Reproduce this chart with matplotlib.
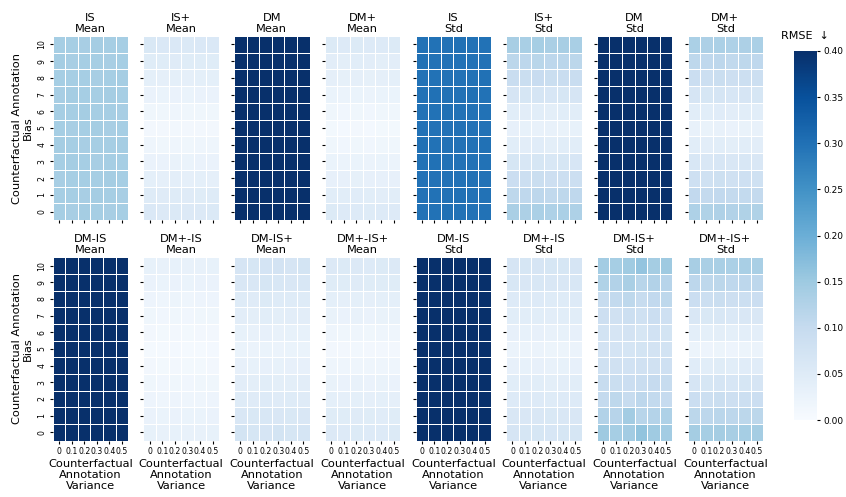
import numpy as np
import matplotlib
matplotlib.use('Agg')
import matplotlib.pyplot as plt

# 变量轴
variances = ['0', '0.1', '0.2', '0.3', '0.4', '0.5']
biases = [str(b) for b in range(11)]

# 每个面板 11 行 (bias 0..10) x 6 列 (variance 0..0.5)
is_mean = [
    [0.140, 0.139, 0.141, 0.140, 0.139, 0.140],
    [0.140, 0.140, 0.139, 0.141, 0.140, 0.139],
    [0.139, 0.140, 0.140, 0.140, 0.141, 0.140],
    [0.140, 0.141, 0.140, 0.139, 0.140, 0.140],
    [0.141, 0.140, 0.139, 0.140, 0.140, 0.141],
    [0.140, 0.139, 0.140, 0.141, 0.139, 0.140],
    [0.140, 0.140, 0.141, 0.140, 0.140, 0.139],
    [0.139, 0.141, 0.140, 0.140, 0.141, 0.140],
    [0.140, 0.140, 0.140, 0.139, 0.140, 0.141],
    [0.141, 0.139, 0.140, 0.140, 0.139, 0.140],
    [0.140, 0.140, 0.139, 0.141, 0.140, 0.140],
]
isp_mean = [
    [0.058, 0.056, 0.057, 0.055, 0.056, 0.057],
    [0.050, 0.049, 0.051, 0.049, 0.048, 0.050],
    [0.038, 0.037, 0.040, 0.036, 0.038, 0.037],
    [0.028, 0.027, 0.029, 0.026, 0.028, 0.027],
    [0.018, 0.017, 0.019, 0.017, 0.018, 0.018],
    [0.012, 0.011, 0.013, 0.011, 0.012, 0.012],
    [0.017, 0.016, 0.018, 0.016, 0.017, 0.017],
    [0.027, 0.026, 0.028, 0.026, 0.027, 0.027],
    [0.038, 0.037, 0.039, 0.037, 0.038, 0.039],
    [0.048, 0.047, 0.049, 0.048, 0.047, 0.048],
    [0.060, 0.058, 0.059, 0.057, 0.058, 0.059],
]
dm_mean = [[0.45] * 6 for _ in range(11)]
dmp_mean = [
    [0.054, 0.052, 0.053, 0.051, 0.052, 0.053],
    [0.045, 0.044, 0.046, 0.044, 0.043, 0.045],
    [0.034, 0.033, 0.035, 0.033, 0.034, 0.033],
    [0.025, 0.024, 0.026, 0.024, 0.025, 0.024],
    [0.016, 0.015, 0.017, 0.015, 0.016, 0.016],
    [0.010, 0.009, 0.011, 0.009, 0.010, 0.010],
    [0.016, 0.015, 0.017, 0.015, 0.016, 0.016],
    [0.025, 0.024, 0.026, 0.024, 0.025, 0.025],
    [0.036, 0.035, 0.037, 0.035, 0.036, 0.038],
    [0.043, 0.042, 0.044, 0.043, 0.042, 0.043],
    [0.054, 0.053, 0.054, 0.052, 0.053, 0.054],
]
is_std = [
    [0.298, 0.297, 0.299, 0.298, 0.297, 0.298],
    [0.298, 0.298, 0.297, 0.299, 0.298, 0.297],
    [0.297, 0.298, 0.298, 0.298, 0.299, 0.298],
    [0.298, 0.299, 0.298, 0.297, 0.298, 0.298],
    [0.299, 0.298, 0.297, 0.298, 0.298, 0.299],
    [0.298, 0.297, 0.298, 0.299, 0.297, 0.298],
    [0.298, 0.298, 0.299, 0.298, 0.298, 0.297],
    [0.297, 0.299, 0.298, 0.298, 0.299, 0.298],
    [0.298, 0.298, 0.298, 0.297, 0.298, 0.299],
    [0.299, 0.297, 0.298, 0.298, 0.297, 0.298],
    [0.298, 0.298, 0.297, 0.299, 0.298, 0.298],
]
isp_std = [
    [0.135, 0.132, 0.134, 0.130, 0.133, 0.131],
    [0.110, 0.108, 0.112, 0.107, 0.110, 0.109],
    [0.090, 0.088, 0.091, 0.087, 0.089, 0.088],
    [0.066, 0.064, 0.067, 0.063, 0.066, 0.065],
    [0.044, 0.043, 0.046, 0.042, 0.045, 0.044],
    [0.033, 0.032, 0.030, 0.031, 0.029, 0.032],
    [0.044, 0.043, 0.045, 0.042, 0.044, 0.045],
    [0.068, 0.066, 0.069, 0.065, 0.067, 0.068],
    [0.094, 0.092, 0.096, 0.091, 0.095, 0.094],
    [0.114, 0.112, 0.116, 0.111, 0.115, 0.114],
    [0.138, 0.136, 0.140, 0.135, 0.139, 0.136],
]
dm_std = [[0.43] * 6 for _ in range(11)]
dmp_std = [
    [0.130, 0.128, 0.129, 0.126, 0.128, 0.127],
    [0.105, 0.103, 0.106, 0.102, 0.104, 0.103],
    [0.084, 0.082, 0.085, 0.081, 0.083, 0.082],
    [0.064, 0.062, 0.065, 0.061, 0.063, 0.062],
    [0.044, 0.043, 0.045, 0.042, 0.044, 0.043],
    [0.030, 0.029, 0.030, 0.028, 0.029, 0.030],
    [0.045, 0.044, 0.046, 0.043, 0.045, 0.044],
    [0.068, 0.066, 0.069, 0.065, 0.068, 0.067],
    [0.090, 0.088, 0.091, 0.087, 0.089, 0.088],
    [0.110, 0.108, 0.111, 0.107, 0.110, 0.108],
    [0.134, 0.132, 0.133, 0.131, 0.132, 0.134],
]

dm_is_mean = [[0.45] * 6 for _ in range(11)]
dmp_is_mean = [
    [0.032, 0.031, 0.032, 0.030, 0.031, 0.032],
    [0.027, 0.026, 0.027, 0.025, 0.026, 0.027],
    [0.021, 0.020, 0.021, 0.020, 0.020, 0.021],
    [0.016, 0.015, 0.016, 0.015, 0.016, 0.016],
    [0.011, 0.010, 0.011, 0.010, 0.010, 0.011],
    [0.007, 0.007, 0.008, 0.007, 0.007, 0.008],
    [0.011, 0.010, 0.011, 0.010, 0.011, 0.011],
    [0.016, 0.015, 0.017, 0.015, 0.016, 0.016],
    [0.021, 0.020, 0.022, 0.020, 0.021, 0.021],
    [0.027, 0.026, 0.028, 0.026, 0.027, 0.027],
    [0.032, 0.031, 0.032, 0.031, 0.031, 0.032],
]
dm_isp_mean = [
    [0.072, 0.066, 0.068, 0.073, 0.067, 0.070],
    [0.062, 0.060, 0.064, 0.061, 0.060, 0.062],
    [0.050, 0.049, 0.052, 0.049, 0.050, 0.049],
    [0.043, 0.041, 0.044, 0.041, 0.042, 0.043],
    [0.033, 0.032, 0.034, 0.032, 0.033, 0.033],
    [0.025, 0.024, 0.026, 0.024, 0.025, 0.025],
    [0.032, 0.031, 0.033, 0.031, 0.032, 0.032],
    [0.043, 0.042, 0.044, 0.042, 0.043, 0.043],
    [0.051, 0.049, 0.054, 0.050, 0.051, 0.050],
    [0.062, 0.061, 0.066, 0.063, 0.061, 0.063],
    [0.068, 0.066, 0.071, 0.075, 0.068, 0.072],
]
dmp_isp_mean = [
    [0.055, 0.053, 0.054, 0.052, 0.053, 0.054],
    [0.048, 0.047, 0.049, 0.047, 0.046, 0.048],
    [0.038, 0.037, 0.039, 0.037, 0.038, 0.037],
    [0.029, 0.028, 0.030, 0.028, 0.029, 0.028],
    [0.019, 0.018, 0.020, 0.018, 0.019, 0.019],
    [0.012, 0.011, 0.013, 0.011, 0.012, 0.012],
    [0.018, 0.017, 0.019, 0.017, 0.018, 0.018],
    [0.029, 0.028, 0.030, 0.028, 0.029, 0.029],
    [0.038, 0.037, 0.039, 0.037, 0.038, 0.038],
    [0.048, 0.047, 0.049, 0.048, 0.047, 0.048],
    [0.055, 0.054, 0.055, 0.053, 0.054, 0.055],
]
dm_is_std = [[0.45] * 6 for _ in range(11)]
dmp_is_std = [
    [0.068, 0.066, 0.067, 0.065, 0.066, 0.067],
    [0.062, 0.061, 0.062, 0.060, 0.061, 0.062],
    [0.053, 0.052, 0.053, 0.051, 0.052, 0.052],
    [0.044, 0.043, 0.044, 0.042, 0.043, 0.044],
    [0.033, 0.032, 0.033, 0.031, 0.032, 0.033],
    [0.024, 0.023, 0.024, 0.022, 0.023, 0.024],
    [0.033, 0.032, 0.033, 0.031, 0.032, 0.033],
    [0.045, 0.044, 0.045, 0.043, 0.044, 0.045],
    [0.052, 0.051, 0.052, 0.050, 0.051, 0.052],
    [0.063, 0.062, 0.063, 0.061, 0.062, 0.063],
    [0.068, 0.067, 0.068, 0.066, 0.067, 0.068],
]
dm_isp_std = [
    [0.150, 0.140, 0.145, 0.162, 0.148, 0.145],
    [0.125, 0.120, 0.145, 0.118, 0.122, 0.130],
    [0.102, 0.110, 0.098, 0.112, 0.104, 0.100],
    [0.098, 0.092, 0.090, 0.094, 0.100, 0.097],
    [0.082, 0.080, 0.078, 0.081, 0.080, 0.084],
    [0.074, 0.071, 0.069, 0.073, 0.074, 0.076],
    [0.076, 0.068, 0.074, 0.066, 0.078, 0.072],
    [0.086, 0.080, 0.088, 0.082, 0.090, 0.084],
    [0.098, 0.104, 0.110, 0.098, 0.106, 0.110],
    [0.128, 0.125, 0.135, 0.118, 0.126, 0.120],
    [0.145, 0.140, 0.148, 0.160, 0.142, 0.150],
]
dmp_isp_std = [
    [0.142, 0.140, 0.141, 0.139, 0.140, 0.141],
    [0.114, 0.112, 0.115, 0.111, 0.113, 0.114],
    [0.090, 0.088, 0.091, 0.087, 0.089, 0.090],
    [0.068, 0.066, 0.069, 0.065, 0.067, 0.068],
    [0.046, 0.045, 0.047, 0.044, 0.046, 0.046],
    [0.022, 0.021, 0.023, 0.021, 0.022, 0.024],
    [0.040, 0.039, 0.041, 0.038, 0.040, 0.040],
    [0.062, 0.060, 0.063, 0.059, 0.061, 0.062],
    [0.090, 0.088, 0.091, 0.087, 0.089, 0.090],
    [0.112, 0.110, 0.113, 0.109, 0.111, 0.112],
    [0.138, 0.135, 0.136, 0.134, 0.137, 0.136],
]

top_titles = ['IS\nMean', 'IS+\nMean', 'DM\nMean', 'DM+\nMean',
              'IS\nStd', 'IS+\nStd', 'DM\nStd', 'DM+\nStd']
bottom_titles = ['DM-IS\nMean', 'DM+-IS\nMean', 'DM-IS+\nMean', 'DM+-IS+\nMean',
                 'DM-IS\nStd', 'DM+-IS\nStd', 'DM-IS+\nStd', 'DM+-IS+\nStd']
top_data = [is_mean, isp_mean, dm_mean, dmp_mean, is_std, isp_std, dm_std, dmp_std]
bottom_data = [dm_is_mean, dmp_is_mean, dm_isp_mean, dmp_isp_mean,
               dm_is_std, dmp_is_std, dm_isp_std, dmp_isp_std]

W, H = 846, 497
fig = plt.figure(figsize=(W / 100, H / 100), dpi=100)

vmin, vmax = 0.0, 0.4
cmap = 'Blues'
fs = 8.2
left0, step, pw = 52.7, 90.7, 75.5
rows_px = [(36, 220), (257.3, 440.7)]

mesh = None
for r, (titles, datas) in enumerate([(top_titles, top_data), (bottom_titles, bottom_data)]):
    y0, y1 = rows_px[r]
    for c in range(8):
        x0 = left0 + c * step
        ax = fig.add_axes([x0 / W, 1 - y1 / H, pw / W, (y1 - y0) / H])
        arr = np.array(datas[c])
        mesh = ax.pcolormesh(arr, cmap=cmap, vmin=vmin, vmax=vmax,
                             edgecolors='white', linewidth=0.7)
        ax.set_xlim(0, 6)
        ax.set_ylim(0, 11)
        for s in ax.spines.values():
            s.set_visible(False)
        ax.set_xticks(np.arange(6) + 0.5)
        ax.set_yticks(np.arange(11) + 0.5)
        ax.tick_params(length=2.5, width=0.8, pad=2)
        ax.set_title(titles[c], fontsize=fs, pad=3, linespacing=1.12)
        if c == 0:
            ax.set_yticklabels(biases, rotation=90, fontsize=5.6, va='center')
            ax.set_ylabel('Counterfactual Annotation\nBias', fontsize=fs, linespacing=1.12,
                          labelpad=3)
        else:
            ax.set_yticklabels([])
        if r == 1:
            ax.set_xticklabels(variances, fontsize=5.6)
            ax.set_xlabel('Counterfactual\nAnnotation\nVariance', fontsize=fs,
                          linespacing=1.12, labelpad=2)
        else:
            ax.set_xticklabels([])

# 颜色条
cax = fig.add_axes([794 / W, 1 - 420 / H, 22.7 / W, 369 / H])
cb = fig.colorbar(mesh, cax=cax)
cb.outline.set_visible(False)
cb.set_ticks([0.0, 0.05, 0.1, 0.15, 0.2, 0.25, 0.3, 0.35, 0.4])
cb.ax.set_yticklabels(['0.00', '0.05', '0.10', '0.15', '0.20', '0.25', '0.30', '0.35', '0.40'])
cb.ax.tick_params(labelsize=6.5, length=2.5, width=0.8, pad=2)
cax.set_title('RMSE  ↓', fontsize=8, pad=9)

fig.savefig('out.png', dpi=100)
